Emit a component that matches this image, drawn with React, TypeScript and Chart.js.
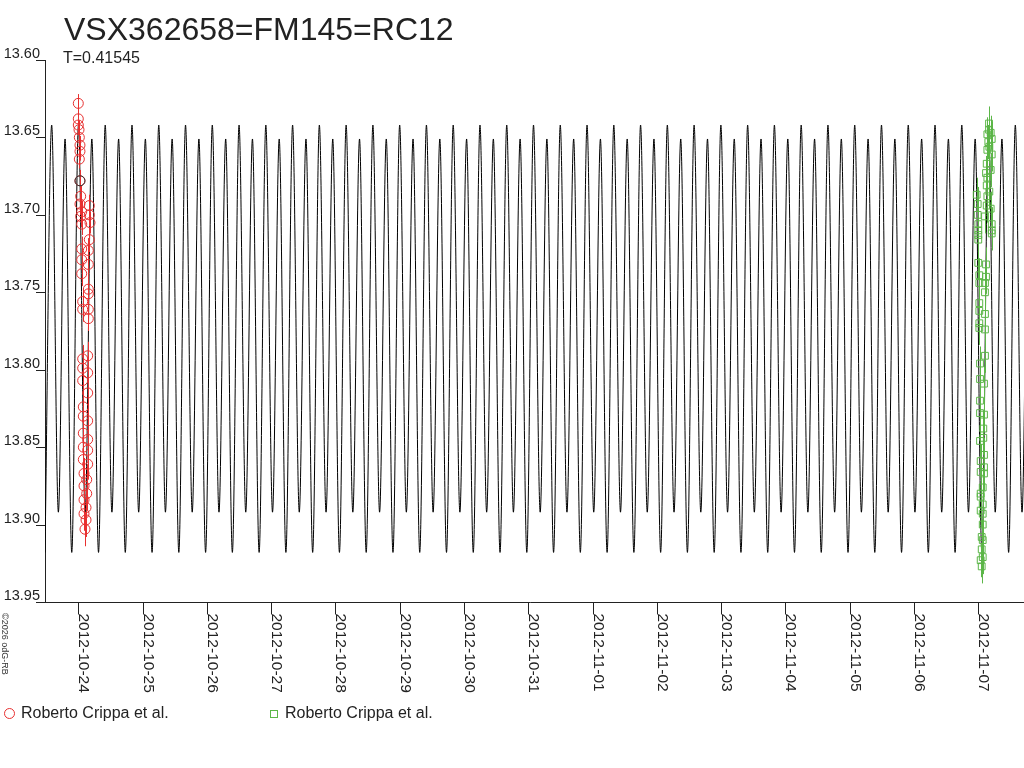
import React, { useEffect, useRef } from 'react';
import { Chart, registerables } from 'chart.js';

Chart.register(...registerables);

// ---------- texts ----------
const TITLE = 'VSX362658=FM145=RC12';
const SUBTITLE = 'T=0.41545';
const COPYRIGHT = '\u00A92026 odG-RB';
const OBSERVER_A = 'Roberto Crippa et al.';
const OBSERVER_B = 'Roberto Crippa et al.';

// ---------- axes (x = days since 2012-10-24 00:00 UT, y = magnitude) ----------
const xMin = -0.518;
const xMax = 14.71;
const yMin = 13.6;
const yMax = 13.95;
const yTicks = [13.6, 13.65, 13.7, 13.75, 13.8, 13.85, 13.9, 13.95];
const yTickLabels = ['13.60', '13.65', '13.70', '13.75', '13.80', '13.85', '13.90', '13.95'];
const dateTicks = [0, 1, 2, 3, 4, 5, 6, 7, 8, 9, 10, 11, 12, 13, 14];
const dateLabels = [
  '2012-10-24', '2012-10-25', '2012-10-26', '2012-10-27', '2012-10-28',
  '2012-10-29', '2012-10-30', '2012-10-31', '2012-11-01', '2012-11-02',
  '2012-11-03', '2012-11-04', '2012-11-05', '2012-11-06', '2012-11-07',
];

// ---------- model light curve: extrema ----------
const tallMaxMag = 13.642;
const shallowMinMag = 13.892;
const shortMaxMag = 13.651;
const deepMinMag = 13.918;

const tallMaxDays = [
  -0.4140, 0.0024, 0.4187, 0.8351, 1.2514, 1.6678, 2.0842, 2.5005, 2.9169, 3.3332,
  3.7496, 4.1660, 4.5823, 4.9987, 5.4150, 5.8314, 6.2478, 6.6641, 7.0805, 7.4968,
  7.9132, 8.3296, 8.7459, 9.1623, 9.5786, 9.9950, 10.4114, 10.8277, 11.2441, 11.6604,
  12.0768, 12.4932, 12.9095, 13.3259, 13.7422, 14.1586, 14.5750,
];
const shallowMinDays = [
  -0.3099, 0.1065, 0.5228, 0.9392, 1.3555, 1.7719, 2.1883, 2.6046, 3.0210, 3.4373,
  3.8537, 4.2701, 4.6864, 5.1028, 5.5191, 5.9355, 6.3519, 6.7682, 7.1846, 7.6009,
  8.0173, 8.4337, 8.8500, 9.2664, 9.6827, 10.0991, 10.5155, 10.9318, 11.3482, 11.7645,
  12.1809, 12.5973, 13.0136, 13.4300, 13.8463, 14.2627, 14.6791,
];
const shortMaxDays = [
  -0.2058, 0.2106, 0.6269, 1.0433, 1.4596, 1.8760, 2.2924, 2.7087, 3.1251, 3.5414,
  3.9578, 4.3742, 4.7905, 5.2069, 5.6232, 6.0396, 6.4560, 6.8723, 7.2887, 7.7050,
  8.1214, 8.5378, 8.9541, 9.3705, 9.7868, 10.2032, 10.6196, 11.0359, 11.4523, 11.8686,
  12.2850, 12.7014, 13.1177, 13.5341, 13.9504, 14.3668, 14.7832,
];
const deepMinDays = [
  -0.5181, -0.1017, 0.3146, 0.7310, 1.1473, 1.5637, 1.9801, 2.3964, 2.8128, 3.2291,
  3.6455, 4.0619, 4.4782, 4.8946, 5.3109, 5.7273, 6.1437, 6.5600, 6.9764, 7.3927,
  7.8091, 8.2255, 8.6418, 9.0582, 9.4745, 9.8909, 10.3073, 10.7236, 11.1400, 11.5563,
  11.9727, 12.3891, 12.8054, 13.2218, 13.6381, 14.0545, 14.4709, 14.8873,
];

// ---------- observations, series A (red circles) ----------
const redDays = [
  0.000, 0.000, 0.000, 0.011, 0.016, 0.026, 0.026, 0.016, 0.026, 0.037,
  0.026, 0.171, 0.053, 0.171, 0.037, 0.182, 0.053, 0.171, 0.053, 0.156,
  0.053, 0.156, 0.053, 0.156, 0.156, 0.068, 0.068, 0.156, 0.156, 0.068,
  0.146, 0.068, 0.146, 0.068, 0.146, 0.078, 0.078, 0.146, 0.078, 0.146,
  0.078, 0.146, 0.078, 0.146, 0.089, 0.131, 0.089, 0.131, 0.089, 0.120,
  0.089, 0.120, 0.104,
];
const redMags = [
  13.628, 13.638, 13.642, 13.645, 13.650, 13.655, 13.659, 13.664, 13.678, 13.688,
  13.693, 13.694, 13.698, 13.700, 13.701, 13.705, 13.706, 13.716, 13.722, 13.723,
  13.729, 13.732, 13.738, 13.748, 13.751, 13.756, 13.761, 13.761, 13.767, 13.793,
  13.791, 13.799, 13.802, 13.807, 13.815, 13.824, 13.830, 13.833, 13.841, 13.845,
  13.850, 13.852, 13.858, 13.861, 13.867, 13.871, 13.875, 13.880, 13.884, 13.889,
  13.893, 13.897, 13.903,
];
const redErrs = [
  0.006, 0.006, 0.006, 0.006, 0.006, 0.006, 0.006, 0.006, 0.007, 0.007,
  0.007, 0.007, 0.007, 0.007, 0.007, 0.007, 0.007, 0.008, 0.008, 0.008,
  0.008, 0.008, 0.008, 0.008, 0.008, 0.008, 0.008, 0.008, 0.008, 0.009,
  0.009, 0.009, 0.009, 0.009, 0.009, 0.010, 0.010, 0.010, 0.010, 0.010,
  0.010, 0.010, 0.010, 0.010, 0.010, 0.010, 0.010, 0.011, 0.011, 0.011,
  0.011, 0.011, 0.011,
];

// dark circles near series A
const darkDays = [0.026];
const darkMags = [13.678];

// off-scale marks below the axis
const offDays = [5.833, 14.015];
const offMags = [13.9537, 13.9537];

// ---------- observations, series B (green squares) ----------
const greenDays = [
  14.166, 14.166, 14.140, 14.192, 14.155, 14.208, 14.171, 14.140, 14.208, 14.130,
  14.192, 14.119, 14.140, 14.130, 14.171, 13.974, 14.140, 13.990, 14.130, 14.192,
  13.990, 14.103, 13.999, 14.208, 13.999, 14.208, 14.208, 13.999, 13.999, 13.999,
  14.119, 14.015, 14.119, 14.015, 14.103, 14.103, 14.015, 14.015, 14.103, 14.015,
  14.015, 14.103, 14.103, 14.026, 14.026, 14.088, 14.026, 14.026, 14.088, 14.077,
  14.026, 14.077, 14.088, 14.036, 14.088, 14.036, 14.088, 14.068, 14.036, 14.036,
  14.068, 14.036, 14.068, 14.068, 14.052, 14.068, 14.052, 14.068, 14.036, 14.052,
];
const greenMags = [
  13.641, 13.645, 13.648, 13.647, 13.653, 13.651, 13.656, 13.658, 13.661, 13.667,
  13.671, 13.673, 13.676, 13.681, 13.685, 13.687, 13.688, 13.693, 13.694, 13.696,
  13.700, 13.701, 13.706, 13.706, 13.710, 13.710, 13.712, 13.713, 13.716, 13.731,
  13.732, 13.739, 13.740, 13.744, 13.744, 13.750, 13.757, 13.762, 13.764, 13.770,
  13.773, 13.774, 13.791, 13.796, 13.806, 13.809, 13.820, 13.828, 13.829, 13.838,
  13.846, 13.844, 13.855, 13.859, 13.863, 13.866, 13.867, 13.876, 13.880, 13.882,
  13.887, 13.891, 13.893, 13.900, 13.908, 13.910, 13.916, 13.921, 13.923, 13.927,
];
const greenErr = 0.011;

// ---------- styles ----------
const RED = 'rgb(232,48,48)';
const GREEN = 'rgb(92,182,72)';
const INK = '#222';
const FONT = "'Liberation Sans', Arial, sans-serif";

const decorPlugin = {
  id: 'decor',
  beforeDraw(chart: any) {
    const ctx = chart.ctx;
    ctx.save();
    ctx.fillStyle = '#fff';
    ctx.fillRect(0, 0, chart.width, chart.height);
    ctx.restore();
  },
  beforeDatasetsDraw(chart: any) {
    const ctx = chart.ctx;
    const xs = chart.scales.x;
    const ys = chart.scales.y;
    const area = chart.chartArea;
    ctx.save();
    ctx.strokeStyle = INK;
    ctx.lineWidth = 1;
    ctx.beginPath();
    // y axis
    ctx.moveTo(Math.round(area.left) + 0.5, ys.getPixelForValue(yMin));
    ctx.lineTo(Math.round(area.left) + 0.5, ys.getPixelForValue(yMax));
    // y ticks (last one continues as the x axis)
    yTicks.forEach((v, i) => {
      const y = Math.round(ys.getPixelForValue(v)) + 0.5;
      const x0 = i === yTicks.length - 1 ? chart.width : area.left;
      ctx.moveTo(36, y);
      ctx.lineTo(Math.round(x0) + 0.5, y);
    });
    // x ticks
    const yb = Math.round(ys.getPixelForValue(yMax)) + 0.5;
    dateTicks.forEach((d) => {
      const x = Math.round(xs.getPixelForValue(d)) + 0.5;
      ctx.moveTo(x, yb);
      ctx.lineTo(x, yb + 12);
    });
    ctx.stroke();

    ctx.fillStyle = INK;
    ctx.font = `14.5px ${FONT}`;
    ctx.textAlign = 'right';
    ctx.textBaseline = 'alphabetic';
    yTicks.forEach((v, i) => {
      const y = Math.round(ys.getPixelForValue(v));
      ctx.fillText(yTickLabels[i], 40, y - 2);
    });

    ctx.font = `15.5px ${FONT}`;
    ctx.textAlign = 'left';
    dateTicks.forEach((d, i) => {
      const x = Math.round(xs.getPixelForValue(d));
      ctx.save();
      ctx.translate(x + 1, yb + 11);
      ctx.rotate(Math.PI / 2);
      ctx.fillText(dateLabels[i], 0, 0);
      ctx.restore();
    });
    ctx.restore();
  },
  beforeDatasetDraw(chart: any, args: any) {
    const ds = chart.data.datasets[args.index];
    if (!ds.errs) return;
    const ctx = chart.ctx;
    const xs = chart.scales.x;
    const ys = chart.scales.y;
    ctx.save();
    ctx.strokeStyle = ds.borderColor;
    ctx.lineWidth = 1;
    ctx.beginPath();
    ds.data.forEach((p: any, i: number) => {
      const e = ds.errs[i];
      const x = Math.round(xs.getPixelForValue(p.x)) + 0.5;
      ctx.moveTo(x, ys.getPixelForValue(p.y - e));
      ctx.lineTo(x, ys.getPixelForValue(p.y + e));
    });
    ctx.stroke();
    ctx.restore();
  },
  afterDraw(chart: any) {
    const ctx = chart.ctx;
    ctx.save();
    ctx.fillStyle = INK;
    ctx.textAlign = 'left';
    ctx.textBaseline = 'alphabetic';
    ctx.font = `32px ${FONT}`;
    ctx.fillText(TITLE, 64, 40);
    ctx.font = `16px ${FONT}`;
    ctx.fillText(SUBTITLE, 63, 63);

    // legend
    ctx.font = `16px ${FONT}`;
    ctx.fillText(OBSERVER_A, 21, 718);
    ctx.fillText(OBSERVER_B, 285, 718);
    ctx.lineWidth = 1;
    ctx.strokeStyle = RED;
    ctx.beginPath();
    ctx.arc(9.5, 713.5, 5, 0, Math.PI * 2);
    ctx.stroke();
    ctx.strokeStyle = GREEN;
    ctx.strokeRect(270.5, 710.5, 7, 7);

    // copyright
    ctx.fillStyle = '#333';
    ctx.font = `9px ${FONT}`;
    ctx.save();
    ctx.translate(2, 613);
    ctx.rotate(Math.PI / 2);
    ctx.fillText(COPYRIGHT, 0, 0);
    ctx.restore();
    ctx.restore();
  },
};

export default function App() {
  const ref = useRef<HTMLCanvasElement | null>(null);

  useEffect(() => {
    const canvas = ref.current;
    if (!canvas) return;

    const model: { x: number; y: number }[] = [];
    tallMaxDays.forEach((d) => model.push({ x: d, y: tallMaxMag }));
    shallowMinDays.forEach((d) => model.push({ x: d, y: shallowMinMag }));
    shortMaxDays.forEach((d) => model.push({ x: d, y: shortMaxMag }));
    deepMinDays.forEach((d) => model.push({ x: d, y: deepMinMag }));
    model.sort((a, b) => a.x - b.x);

    const red = redDays.map((d, i) => ({ x: d, y: redMags[i] }));
    const green = greenDays.map((d, i) => ({ x: d, y: greenMags[i] }));
    const dark = darkDays.map((d, i) => ({ x: d, y: darkMags[i] }));
    const off = offDays.map((d, i) => ({ x: d, y: offMags[i] }));

    const chart = new Chart(canvas, {
      type: 'scatter',
      data: {
        datasets: [
          {
            label: 'model',
            data: model,
            showLine: true,
            borderColor: '#000',
            borderWidth: 1,
            pointRadius: 0,
            cubicInterpolationMode: 'monotone',
            order: 5,
          } as any,
          {
            label: OBSERVER_B,
            data: green,
            pointStyle: 'rect',
            pointRadius: 4.8,
            borderColor: GREEN,
            backgroundColor: 'rgba(0,0,0,0)',
            borderWidth: 1,
            errs: green.map(() => greenErr),
            order: 3,
          } as any,
          {
            label: OBSERVER_A,
            data: red,
            pointStyle: 'circle',
            pointRadius: 5,
            borderColor: RED,
            backgroundColor: 'rgba(0,0,0,0)',
            borderWidth: 1,
            errs: redErrs,
            order: 2,
          } as any,
          {
            label: 'dark',
            data: dark,
            pointStyle: 'circle',
            pointRadius: 5,
            borderColor: '#333',
            backgroundColor: 'rgba(0,0,0,0)',
            borderWidth: 1,
            order: 1,
          } as any,
          {
            label: 'off',
            data: off,
            pointStyle: 'circle',
            pointRadius: 3,
            borderColor: '#222',
            backgroundColor: 'rgba(0,0,0,0)',
            borderWidth: 1,
            clip: false,
            order: 0,
          } as any,
        ],
      },
      options: {
        responsive: false,
        animation: false,
        devicePixelRatio: 1,
        events: [],
        layout: { autoPadding: false, padding: { left: 45, top: 60, right: 0, bottom: 166 } },
        scales: {
          x: { type: 'linear', min: xMin, max: xMax, display: false },
          y: { type: 'linear', min: yMin, max: yMax, reverse: true, display: false },
        },
        plugins: {
          legend: { display: false },
          tooltip: { enabled: false },
          title: { display: false },
        },
      } as any,
      plugins: [decorPlugin as any],
    });

    return () => chart.destroy();
  }, []);

  return (
    <div style={{ position: 'fixed', left: 0, top: 0, width: 1024, height: 768, background: '#fff' }}>
      <canvas ref={ref} width={1024} height={768} style={{ display: 'block', width: 1024, height: 768 }} />
    </div>
  );
}
